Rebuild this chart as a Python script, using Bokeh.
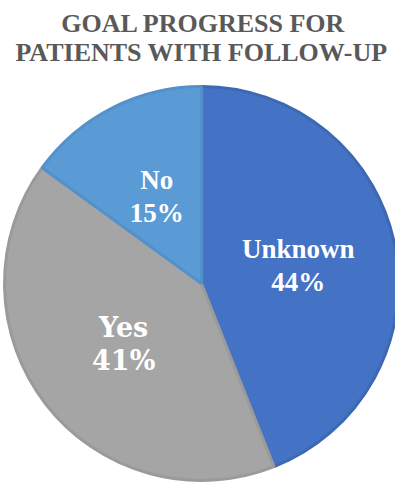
import math
from bokeh.plotting import figure
from bokeh.models import Range1d
from bokeh.core.properties import value
from bokeh.embed import file_html
from bokeh.resources import INLINE

# ---- data ----
categories = ["Unknown", "Yes", "No"]
shares = [44, 41, 15]
fill_colors = ["#4472C4", "#A5A5A5", "#5B9BD5"]
edge_colors = ["#3D68B4", "#9A9A9A", "#5391CB"]
title_lines = ["GOAL PROGRESS FOR", "PATIENTS WITH FOLLOW-UP"]

W, H = 395, 485
cx, cy, r = 201, 485 - 283, 197

total = sum(shares)
starts, ends, lx, ly = [], [], [], []
cum = 0.0
for s in shares:
    a0 = math.pi / 2 - 2 * math.pi * cum / total
    a1 = math.pi / 2 - 2 * math.pi * (cum + s) / total
    starts.append(a1)
    ends.append(a0)
    mid = (a0 + a1) / 2
    lx.append(cx + 0.5 * r * math.cos(mid))
    ly.append(cy + 0.5 * r * math.sin(mid))
    cum += s

p = figure(width=W, height=H, output_backend="svg", toolbar_location=None,
           x_range=Range1d(0, W), y_range=Range1d(0, H), min_border=0)
p.axis.visible = False
p.grid.visible = False
p.outline_line_color = None

p.wedge(x=[cx] * 3, y=[cy] * 3, radius=r, start_angle=starts, end_angle=ends,
        fill_color=fill_colors, line_color=edge_colors, line_width=3)

p.text(x=[203], y=[H - 23], text=[title_lines[0]], text_align="center", text_baseline="middle",
       text_font=value("Times New Roman"), text_font_style="bold", text_font_size="26px",
       text_color="#595959")
p.text(x=[201], y=[H - 52], text=[title_lines[1]], text_align="center", text_baseline="middle",
       text_font=value("serif"), text_font_style="bold", text_font_size="26px",
       text_color="#595959")

fonts = ["Liberation Serif", "DejaVu Serif", "Times New Roman"]
for cat, s, x, y, f in zip(categories, shares, lx, ly, fonts):
    p.text(x=[x], y=[y + 16], text=[cat], text_align="center", text_baseline="middle",
           text_font=value(f), text_font_style="bold", text_font_size="27px",
           text_color="white")
    p.text(x=[x], y=[y - 17], text=[f"{s}%"], text_align="center", text_baseline="middle",
           text_font=value(f), text_font_style="bold", text_font_size="27px",
           text_color="white")

open("out.html", "w").write(file_html(p, INLINE))
